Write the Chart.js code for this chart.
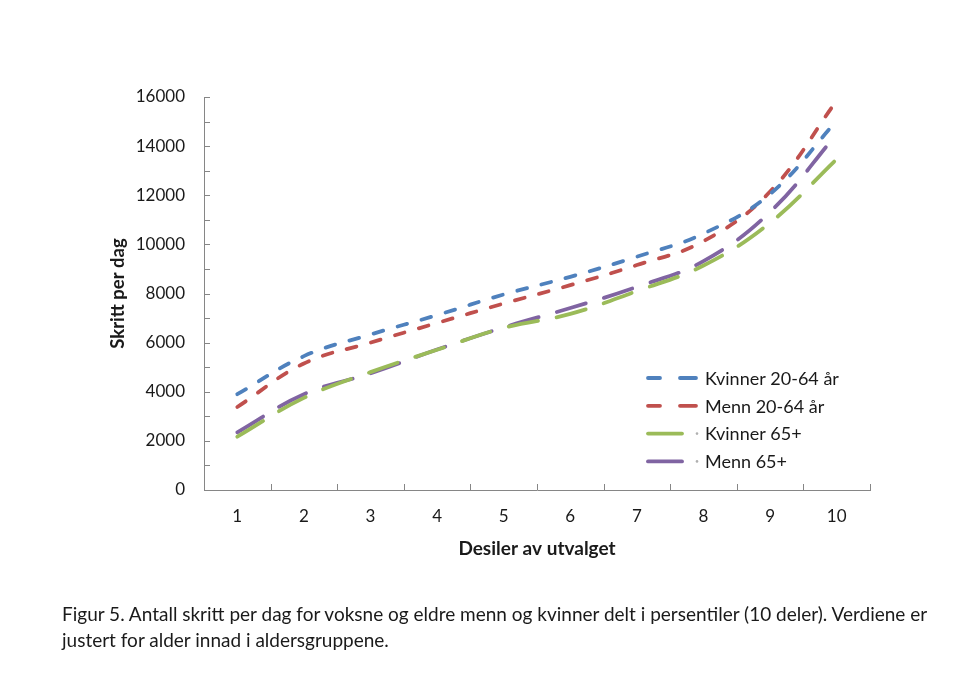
<!DOCTYPE html>
<html>
<head>
<meta charset="utf-8">
<script src="https://cdn.jsdelivr.net/npm/chart.js@4.4.1/dist/chart.umd.min.js"></script>
<style>
  html, body { margin: 0; padding: 0; background: #fff; }
  #wrap { position: relative; width: 970px; height: 676px; }
  #caption {
    position: absolute; left: 62px; top: 601px; width: 905px;
    font-family: Lato, sans-serif; font-size: 19px; line-height: 26px; color: #1a1a1a;
  }
</style>
</head>
<body>
<div id="wrap">
  <canvas id="chart" width="970" height="676"></canvas>
  <div id="caption">Figur 5. Antall skritt per dag for voksne og eldre menn og kvinner delt i persentiler (10 deler). Verdiene er<br>justert for alder innad i aldersgruppene.</div>
</div>
<script>
const deciles = ['1', '2', '3', '4', '5', '6', '7', '8', '9', '10']
const kvinner2064 = [3900, 5450, 6330, 7120, 7960, 8680, 9500, 10440, 12050, 15030]
const menn2064 = [3380, 5150, 6000, 6800, 7590, 8340, 9160, 10130, 12150, 15850]
const kvinner65 = [2170, 3750, 4800, 5710, 6600, 7170, 8100, 9140, 10880, 13470]
const menn65 = [2350, 3900, 4750, 5720, 6620, 7410, 8270, 9320, 11320, 14490]
const seriesNames = ['Kvinner 20-64 år', 'Menn 20-64 år', 'Kvinner 65+', 'Menn 65+']

const axisGrey = '#868686'
const textColor = '#1a1a1a'
const shortDash = [10, 15]
const longDash = [30, 19]

function series(label, data, color, dash) {
  return {
    label, data,
    borderColor: color,
    backgroundColor: color,
    borderWidth: 3.8,
    borderDash: dash,
    borderCapStyle: 'round',
    tension: 0.4,
    pointRadius: 0,
    fill: false
  }
}

// short tick marks pointing into the plot area, like the original
const innerTicks = {
  id: 'innerTicks',
  afterDraw(chart) {
    const ctx = chart.ctx
    const { x, y } = chart.scales
    ctx.save()
    ctx.strokeStyle = axisGrey
    ctx.lineWidth = 1
    ctx.beginPath()
    y.ticks.forEach(t => {
      const py = Math.round(y.getPixelForValue(t.value)) + 0.5
      ctx.moveTo(chart.chartArea.left, py)
      ctx.lineTo(chart.chartArea.left + 6, py)
    })
    const half = (x.getPixelForValue(1) - x.getPixelForValue(0)) / 2
    deciles.forEach((d, i) => {
      const px = Math.round(x.getPixelForValue(i) + half) + 0.5
      ctx.moveTo(px, chart.chartArea.bottom)
      ctx.lineTo(px, chart.chartArea.bottom - 6)
    })
    ctx.stroke()
    ctx.restore()
  }
}

// legend drawn inside the plot, lower right
const insideLegend = {
  id: 'insideLegend',
  afterDraw(chart) {
    const ctx = chart.ctx
    ctx.save()
    ctx.font = '18px Lato, sans-serif'
    ctx.textBaseline = 'middle'
    chart.data.datasets.forEach((ds, i) => {
      const yy = 378 + i * 27.8
      ctx.strokeStyle = ds.borderColor
      ctx.lineWidth = 3.8
      ctx.lineCap = 'round'
      ctx.beginPath()
      if (i < 2) {
        ctx.moveTo(648, yy); ctx.lineTo(660, yy)
        ctx.moveTo(680, yy); ctx.lineTo(696, yy)
      } else {
        ctx.moveTo(648, yy); ctx.lineTo(682, yy)
      }
      ctx.stroke()
      if (i >= 2) {
        ctx.fillStyle = '#b0b0b0'
        ctx.beginPath()
        ctx.arc(697, yy, 1.3, 0, Math.PI * 2)
        ctx.fill()
      }
      ctx.fillStyle = textColor
      ctx.fillText(ds.label, 705, yy + 1)
    })
    ctx.restore()
  }
}

new Chart(document.getElementById('chart'), {
  type: 'line',
  data: {
    labels: deciles,
    datasets: [
      series(seriesNames[0], kvinner2064, '#4f81bd', shortDash),
      series(seriesNames[1], menn2064, '#c0504d', shortDash),
      series(seriesNames[2], kvinner65, '#9bbb59', longDash),
      series(seriesNames[3], menn65, '#8064a2', longDash)
    ]
  },
  options: {
    responsive: false,
    animation: false,
    layout: { padding: { left: 100, right: 100, top: 97, bottom: 116 } },
    plugins: {
      legend: { display: false },
      tooltip: { enabled: false }
    },
    scales: {
      x: {
        offset: true,
        afterFit: (scale) => { scale.height = 70 },
        grid: { display: false, drawTicks: false },
        border: { display: true, color: axisGrey, width: 1 },
        ticks: {
          color: textColor,
          padding: 16,
          font: { family: 'Lato, sans-serif', size: 17 }
        },
        title: {
          display: true,
          text: 'Desiler av utvalget',
          color: textColor,
          padding: { top: 1, bottom: 0 },
          font: { family: 'Lato, sans-serif', size: 19, weight: 'bold' }
        }
      },
      y: {
        min: 0,
        max: 16000,
        afterFit: (scale) => { scale.width = 104 },
        grid: { display: false, drawTicks: false },
        border: { display: true, color: axisGrey, width: 1 },
        ticks: {
          stepSize: 1000,
          autoSkip: false,
          color: textColor,
          padding: 19,
          font: { family: 'Lato, sans-serif', size: 17 },
          callback: (v) => (v % 2000 === 0 ? String(v) : '')
        },
        title: {
          display: true,
          text: 'Skritt per dag',
          color: textColor,
          padding: { top: 7, bottom: 0 },
          font: { family: 'Lato, sans-serif', size: 18.5, weight: 'bold' }
        }
      }
    }
  },
  plugins: [innerTicks, insideLegend]
})
</script>
</body>
</html>
